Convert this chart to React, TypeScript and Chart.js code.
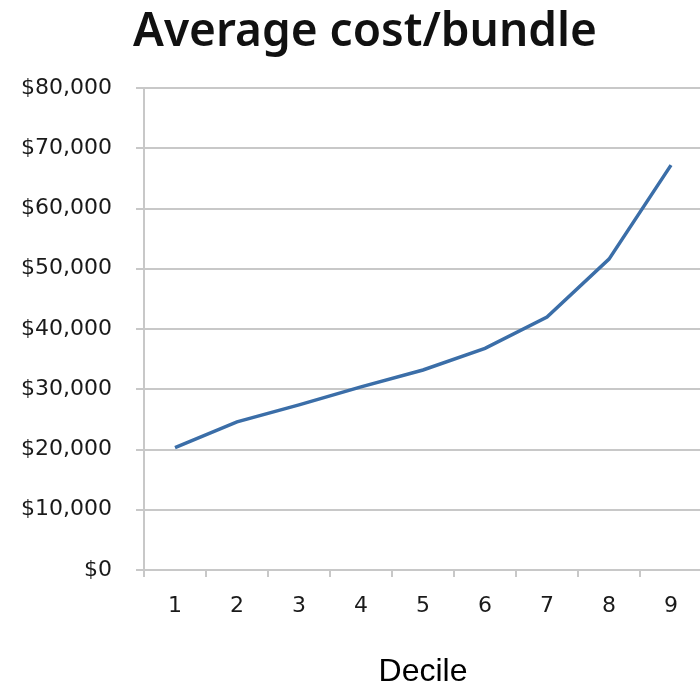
import React, { useEffect, useRef } from "react";
import { Chart, registerables } from "chart.js";

Chart.register(...registerables);

const deciles = ["1", "2", "3", "4", "5", "6", "7", "8", "9"];
const avgCost = [20300, 24600, 27400, 30400, 33200, 36800, 42000, 51600, 67200];
const yMin = 0;
const yMax = 80000;
const yStep = 10000;
const chartTitle = "Average cost/bundle";
const xAxisTitle = "Decile";

const GRID = "#c8c8c8";

const titlePlugin = {
  id: "centerTitle",
  afterDraw(chart: any) {
    const ctx = chart.ctx;
    ctx.save();
    ctx.font = "600 46px 'Noto Sans', 'Open Sans', sans-serif";
    ctx.fillStyle = "#111";
    ctx.textAlign = "center";
    ctx.textBaseline = "middle";
    ctx.fillText(chartTitle, chart.width / 2, 33);
    ctx.restore();
  },
};

export default function App() {
  const ref = useRef<HTMLCanvasElement | null>(null);

  useEffect(() => {
    if (!ref.current) return;
    const chart = new Chart(ref.current, {
      type: "line",
      data: {
        labels: deciles,
        datasets: [
          {
            data: avgCost,
            borderColor: "#3b6ea8",
            borderWidth: 3.5,
            pointRadius: 0,
            tension: 0,
            fill: false,
          },
        ],
      },
      options: {
        animation: false,
        responsive: false,
        layout: { padding: { left: 0, right: 28, top: 88, bottom: 0 } },
        plugins: {
          legend: { display: false },
          tooltip: { enabled: false },
          title: { display: false },
        },
        scales: {
          x: {
            offset: true,
            grid: {
              display: true,
              offset: true,
              drawOnChartArea: false,
              color: GRID,
              lineWidth: 2,
              tickLength: 7,
            },
            border: { display: true, color: GRID, width: 2 },
            ticks: {
              color: "#1a1a1a",
              font: { family: "'DejaVu Sans'", size: 22 },
              padding: 16,
            },
            title: {
              display: true,
              text: xAxisTitle,
              color: "#000",
              font: { family: "'Liberation Sans', Arial", size: 32, lineHeight: 0.8 },
              padding: { top: 0, bottom: 0 },
            },
            afterFit: (scale: any) => {
              scale.height = 115;
            },
          },
          y: {
            min: yMin,
            max: yMax,
            ticks: {
              stepSize: yStep,
              color: "#1a1a1a",
              font: { family: "'DejaVu Sans'", size: 22 },
              padding: 24,
              callback: (v: any) => "$" + Number(v).toLocaleString("en-US"),
            },
            grid: { color: GRID, lineWidth: 2, tickLength: 8 },
            border: { display: true, color: GRID, width: 2 },
            afterFit: (scale: any) => {
              scale.width = 144;
            },
          },
        },
      },
      plugins: [titlePlugin],
    });
    return () => chart.destroy();
  }, []);

  return (
    <div
      style={{
        position: "absolute",
        left: 0,
        top: 0,
        width: 700,
        height: 685,
        overflow: "hidden",
        background: "#fff",
      }}
    >
      <canvas ref={ref} width={730} height={685} style={{ display: "block" }} />
    </div>
  );
}
